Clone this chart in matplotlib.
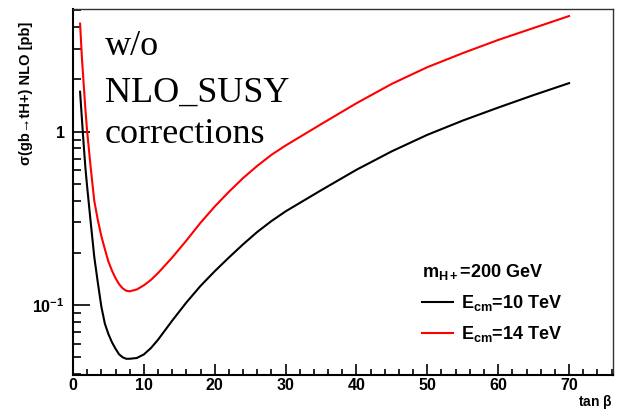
import numpy as np
import matplotlib
matplotlib.use('Agg')
from matplotlib import pyplot as plt
from matplotlib.ticker import FixedLocator, MultipleLocator, LogLocator, NullFormatter

plt.rcParams['font.family'] = ['Liberation Sans', 'DejaVu Sans']
plt.rcParams['font.weight'] = 'bold'
plt.rcParams['mathtext.fontset'] = 'custom'
plt.rcParams['mathtext.rm'] = 'Liberation Sans:bold'
plt.rcParams['mathtext.it'] = 'Liberation Sans:bold'
plt.rcParams['mathtext.bf'] = 'Liberation Sans:bold'

# tan(beta) scan points
tanb = [1.0, 1.25, 1.5, 1.75, 2.0, 2.5, 3.0, 3.5, 4.0, 4.5, 5.0, 5.5, 6.0,
        6.5, 7.0, 7.5, 8.0, 9.0, 10, 11, 12, 14, 16, 18, 20, 22, 24, 26,
        28, 30, 35, 40, 45, 50, 55, 60, 65, 70]

# NLO cross sections [pb], Ecm = 10 TeV
sigma_10 = [1.70, 1.20, 0.85, 0.62, 0.48, 0.30, 0.19, 0.135, 0.098, 0.078,
            0.068, 0.061, 0.056, 0.052, 0.050, 0.049, 0.049, 0.0495, 0.0519,
            0.0565, 0.0631, 0.0813, 0.1035, 0.129, 0.1567, 0.188, 0.224,
            0.264, 0.305, 0.347, 0.459, 0.603, 0.771, 0.959, 1.159, 1.377,
            1.626, 1.905]

# NLO cross sections [pb], Ecm = 14 TeV
sigma_14 = [4.20, 2.70, 1.90, 1.35, 1.00, 0.62, 0.40, 0.31, 0.25, 0.21,
            0.178, 0.158, 0.143, 0.132, 0.125, 0.121, 0.120, 0.123, 0.130,
            0.1396, 0.153, 0.188, 0.2355, 0.2985, 0.370, 0.450, 0.540,
            0.635, 0.735, 0.832, 1.104, 1.459, 1.888, 2.355, 2.838, 3.381,
            3.963, 4.645]

fig = plt.figure(figsize=(6.17, 4.11), dpi=100)
ax = fig.add_axes([0.1183, 0.0876, 0.8752, 0.8905])

ax.plot(tanb, sigma_10, color='black', lw=1.5, label=r'$\mathrm{E_{cm}}$=10 TeV')
ax.plot(tanb, sigma_14, color='red', lw=1.5, label=r'$\mathrm{E_{cm}}$=14 TeV')

ax.set_yscale('log')
ax.set_xlim(0, 76.2)
ax.set_ylim(0.0395, 5.1)

# ticks inside, ROOT style: only on left and bottom
ax.xaxis.set_major_locator(MultipleLocator(10))
ax.xaxis.set_minor_locator(MultipleLocator(2))
ax.yaxis.set_major_locator(FixedLocator([0.1, 1]))
ax.set_yticklabels([r'$10^{-1}$', '1'])
ax.yaxis.set_minor_locator(LogLocator(subs=np.arange(2, 10)))
ax.yaxis.set_minor_formatter(NullFormatter())
ax.tick_params(which='both', direction='in', top=False, right=False,
               labelsize=11.5, width=1.2)
ax.tick_params(axis='y', which='major', length=12, pad=6)
ax.tick_params(axis='y', which='minor', length=6)
ax.tick_params(axis='x', which='major', length=8, pad=2)
ax.tick_params(axis='x', which='minor', length=4)
for lab in ax.get_xticklabels():
    lab.set_fontweight('bold')

for side in ['left', 'bottom']:
    ax.spines[side].set_linewidth(1.5)
for side in ['top', 'right']:
    ax.spines[side].set_linewidth(1.0)
    ax.spines[side].set_color('#333333')

ax.set_xlabel(r'tan $\beta$', fontsize=10, fontweight='bold')
ax.xaxis.set_label_coords(1.0, -0.074)
ax.xaxis.label.set_ha('right')
ax.xaxis.label.set_va('center')
ax.set_ylabel('σ(gb→tH+) NLO [pb]', fontsize=10.5, fontweight='bold')
ax.yaxis.set_label_coords(-0.074, 0.77)

for text, yb in [('w/o', 55), ('NLO_SUSY', 101.7), ('corrections', 143.3)]:
    fig.text(105 / 617, 1 - yb / 411, text, family='Liberation Serif',
             fontweight='normal', fontsize=26, ha='left', va='baseline')

leg = ax.legend(title=r'$\mathrm{m_{H+}}$=200 GeV', loc='upper left',
                bbox_to_anchor=(0.622, 0.343), frameon=False, fontsize=13,
                title_fontsize=13, handlelength=1.75, handletextpad=0.45,
                labelspacing=0.62, alignment='left', borderaxespad=0.3)

fig.savefig('out.png', dpi=100)
